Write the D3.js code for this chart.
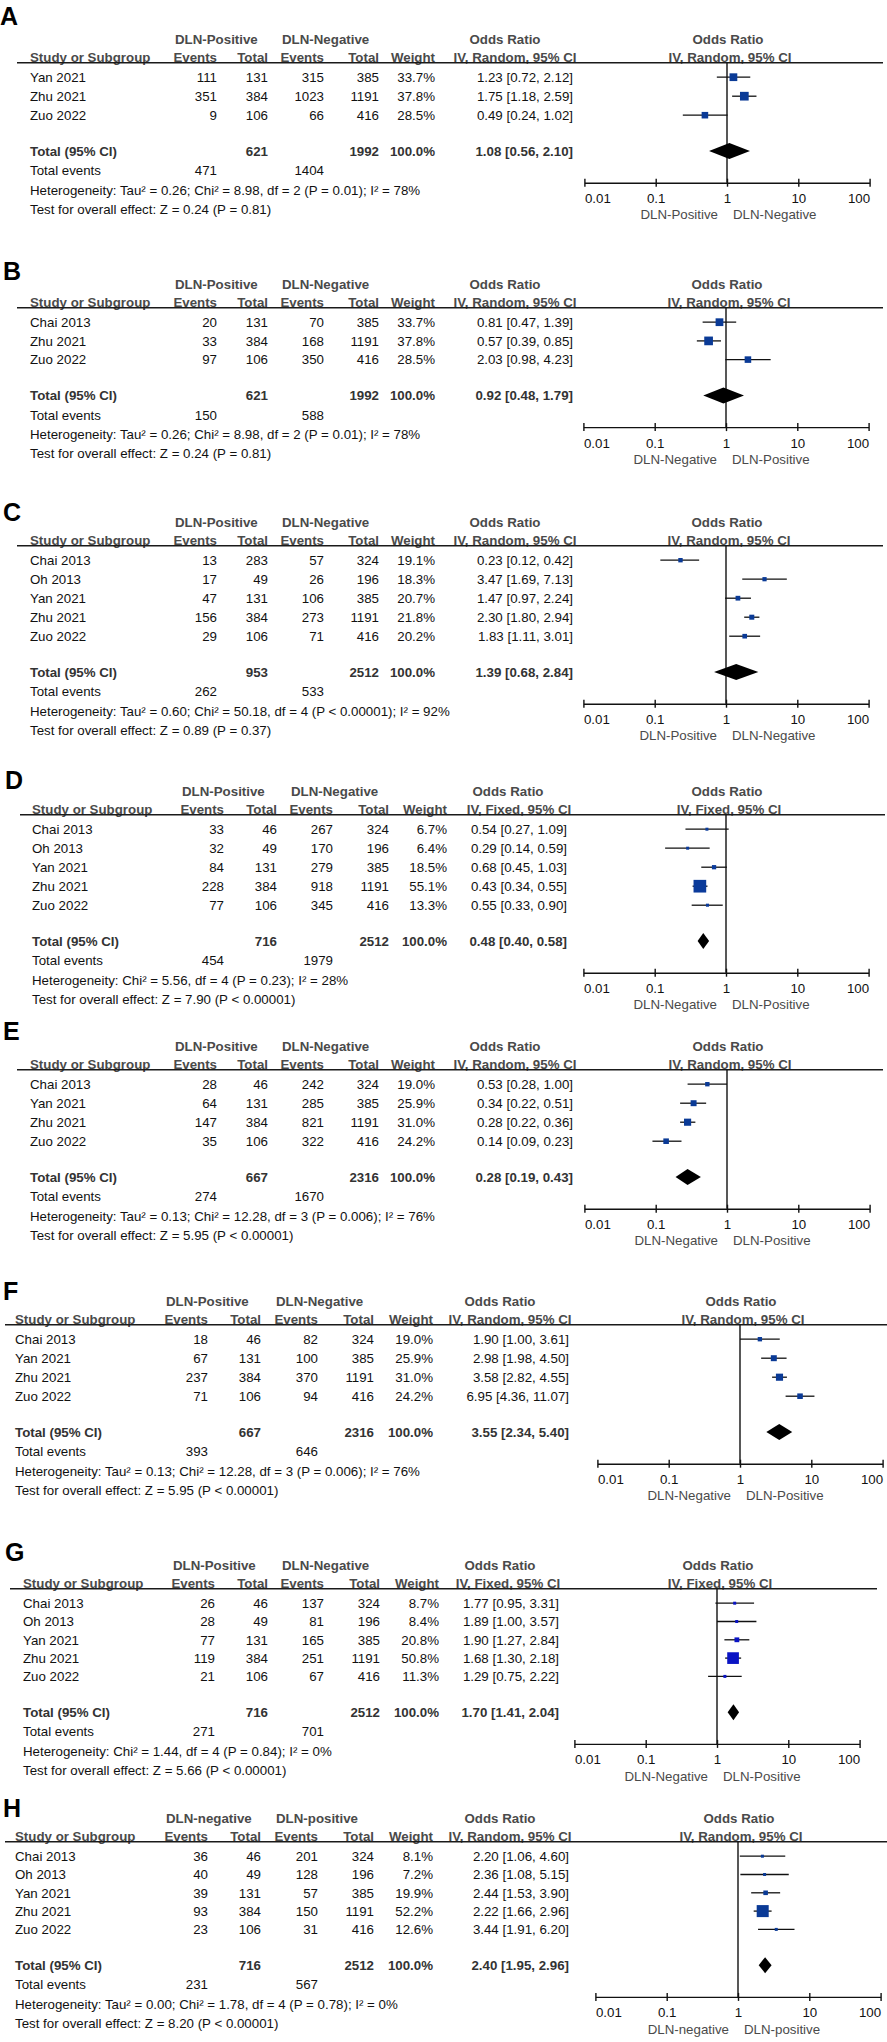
<!DOCTYPE html>
<html>
<head>
<meta charset="utf-8">
<script src="https://cdn.jsdelivr.net/npm/d3@7"></script>
<style>
  body { margin: 0; background: #fff; }
  text { font-family: "Liberation Sans", Arial, sans-serif; }
</style>
</head>
<body>
<div id="chart"></div>
<script>
// ---- data ----
const tickValues = [0.01, 0.1, 1, 10, 100];
const tickLabels = ["0.01", "0.1", "1", "10", "100"];

// each row: posEvents, posTotal, negEvents, negTotal, weight, OR, lower, upper
// totals: posTotal, negTotal, OR, lower, upper, posEvents, negEvents
const studiesA = ["Yan 2021", "Zhu 2021", "Zuo 2022"];
const rowsA = [[111, 131, 315, 385, 33.7, 1.23, 0.72, 2.12], [351, 384, 1023, 1191, 37.8, 1.75, 1.18, 2.59], [9, 106, 66, 416, 28.5, 0.49, 0.24, 1.02]];
const totalA = [621, 1992, 1.08, 0.56, 2.10, 471, 1404];
const groupsA = ["DLN-Positive", "DLN-Negative"];
const favoursA = ["DLN-Positive", "DLN-Negative"];
const notesA = ["Heterogeneity: Tau² = 0.26; Chi² = 8.98, df = 2 (P = 0.01); I² = 78%", "Test for overall effect: Z = 0.24 (P = 0.81)"];

const studiesB = ["Chai 2013", "Zhu 2021", "Zuo 2022"];
const rowsB = [[20, 131, 70, 385, 33.7, 0.81, 0.47, 1.39], [33, 384, 168, 1191, 37.8, 0.57, 0.39, 0.85], [97, 106, 350, 416, 28.5, 2.03, 0.98, 4.23]];
const totalB = [621, 1992, 0.92, 0.48, 1.79, 150, 588];
const groupsB = ["DLN-Positive", "DLN-Negative"];
const favoursB = ["DLN-Negative", "DLN-Positive"];
const notesB = ["Heterogeneity: Tau² = 0.26; Chi² = 8.98, df = 2 (P = 0.01); I² = 78%", "Test for overall effect: Z = 0.24 (P = 0.81)"];

const studiesC = ["Chai 2013", "Oh 2013", "Yan 2021", "Zhu 2021", "Zuo 2022"];
const rowsC = [[13, 283, 57, 324, 19.1, 0.23, 0.12, 0.42], [17, 49, 26, 196, 18.3, 3.47, 1.69, 7.13], [47, 131, 106, 385, 20.7, 1.47, 0.97, 2.24], [156, 384, 273, 1191, 21.8, 2.30, 1.80, 2.94], [29, 106, 71, 416, 20.2, 1.83, 1.11, 3.01]];
const totalC = [953, 2512, 1.39, 0.68, 2.84, 262, 533];
const groupsC = ["DLN-Positive", "DLN-Negative"];
const favoursC = ["DLN-Positive", "DLN-Negative"];
const notesC = ["Heterogeneity: Tau² = 0.60; Chi² = 50.18, df = 4 (P < 0.00001); I² = 92%", "Test for overall effect: Z = 0.89 (P = 0.37)"];

const studiesD = ["Chai 2013", "Oh 2013", "Yan 2021", "Zhu 2021", "Zuo 2022"];
const rowsD = [[33, 46, 267, 324, 6.7, 0.54, 0.27, 1.09], [32, 49, 170, 196, 6.4, 0.29, 0.14, 0.59], [84, 131, 279, 385, 18.5, 0.68, 0.45, 1.03], [228, 384, 918, 1191, 55.1, 0.43, 0.34, 0.55], [77, 106, 345, 416, 13.3, 0.55, 0.33, 0.90]];
const totalD = [716, 2512, 0.48, 0.40, 0.58, 454, 1979];
const groupsD = ["DLN-Positive", "DLN-Negative"];
const favoursD = ["DLN-Negative", "DLN-Positive"];
const notesD = ["Heterogeneity: Chi² = 5.56, df = 4 (P = 0.23); I² = 28%", "Test for overall effect: Z = 7.90 (P < 0.00001)"];

const studiesE = ["Chai 2013", "Yan 2021", "Zhu 2021", "Zuo 2022"];
const rowsE = [[28, 46, 242, 324, 19.0, 0.53, 0.28, 1.00], [64, 131, 285, 385, 25.9, 0.34, 0.22, 0.51], [147, 384, 821, 1191, 31.0, 0.28, 0.22, 0.36], [35, 106, 322, 416, 24.2, 0.14, 0.09, 0.23]];
const totalE = [667, 2316, 0.28, 0.19, 0.43, 274, 1670];
const groupsE = ["DLN-Positive", "DLN-Negative"];
const favoursE = ["DLN-Negative", "DLN-Positive"];
const notesE = ["Heterogeneity: Tau² = 0.13; Chi² = 12.28, df = 3 (P = 0.006); I² = 76%", "Test for overall effect: Z = 5.95 (P < 0.00001)"];

const studiesF = ["Chai 2013", "Yan 2021", "Zhu 2021", "Zuo 2022"];
const rowsF = [[18, 46, 82, 324, 19.0, 1.90, 1.00, 3.61], [67, 131, 100, 385, 25.9, 2.98, 1.98, 4.50], [237, 384, 370, 1191, 31.0, 3.58, 2.82, 4.55], [71, 106, 94, 416, 24.2, 6.95, 4.36, 11.07]];
const totalF = [667, 2316, 3.55, 2.34, 5.40, 393, 646];
const groupsF = ["DLN-Positive", "DLN-Negative"];
const favoursF = ["DLN-Negative", "DLN-Positive"];
const notesF = ["Heterogeneity: Tau² = 0.13; Chi² = 12.28, df = 3 (P = 0.006); I² = 76%", "Test for overall effect: Z = 5.95 (P < 0.00001)"];

const studiesG = ["Chai 2013", "Oh 2013", "Yan 2021", "Zhu 2021", "Zuo 2022"];
const rowsG = [[26, 46, 137, 324, 8.7, 1.77, 0.95, 3.31], [28, 49, 81, 196, 8.4, 1.89, 1.00, 3.57], [77, 131, 165, 385, 20.8, 1.90, 1.27, 2.84], [119, 384, 251, 1191, 50.8, 1.68, 1.30, 2.18], [21, 106, 67, 416, 11.3, 1.29, 0.75, 2.22]];
const totalG = [716, 2512, 1.70, 1.41, 2.04, 271, 701];
const groupsG = ["DLN-Positive", "DLN-Negative"];
const favoursG = ["DLN-Negative", "DLN-Positive"];
const notesG = ["Heterogeneity: Chi² = 1.44, df = 4 (P = 0.84); I² = 0%", "Test for overall effect: Z = 5.66 (P < 0.00001)"];

const studiesH = ["Chai 2013", "Oh 2013", "Yan 2021", "Zhu 2021", "Zuo 2022"];
const rowsH = [[36, 46, 201, 324, 8.1, 2.20, 1.06, 4.60], [40, 49, 128, 196, 7.2, 2.36, 1.08, 5.15], [39, 131, 57, 385, 19.9, 2.44, 1.53, 3.90], [93, 384, 150, 1191, 52.2, 2.22, 1.66, 2.96], [23, 106, 31, 416, 12.6, 3.44, 1.91, 6.20]];
const totalH = [716, 2512, 2.40, 1.95, 2.96, 231, 567];
const groupsH = ["DLN-negative", "DLN-positive"];
const favoursH = ["DLN-negative", "DLN-positive"];
const notesH = ["Heterogeneity: Tau² = 0.00; Chi² = 1.78, df = 4 (P = 0.78); I² = 0%", "Test for overall effect: Z = 8.20 (P < 0.00001)"];

const panels = [
  {key: "A", method: "IV, Random, 95% CI", studies: studiesA, rows: rowsA, total: totalA, groups: groupsA, favours: favoursA, notes: notesA},
  {key: "B", method: "IV, Random, 95% CI", studies: studiesB, rows: rowsB, total: totalB, groups: groupsB, favours: favoursB, notes: notesB},
  {key: "C", method: "IV, Random, 95% CI", studies: studiesC, rows: rowsC, total: totalC, groups: groupsC, favours: favoursC, notes: notesC},
  {key: "D", method: "IV, Fixed, 95% CI", studies: studiesD, rows: rowsD, total: totalD, groups: groupsD, favours: favoursD, notes: notesD},
  {key: "E", method: "IV, Random, 95% CI", studies: studiesE, rows: rowsE, total: totalE, groups: groupsE, favours: favoursE, notes: notesE},
  {key: "F", method: "IV, Random, 95% CI", studies: studiesF, rows: rowsF, total: totalF, groups: groupsF, favours: favoursF, notes: notesF},
  {key: "G", method: "IV, Fixed, 95% CI", studies: studiesG, rows: rowsG, total: totalG, groups: groupsG, favours: favoursG, notes: notesG},
  {key: "H", method: "IV, Random, 95% CI", studies: studiesH, rows: rowsH, total: totalH, groups: groupsH, favours: favoursH, notes: notesH}
];

// ---- layout (per panel positions) ----
const layout = [
  {lx: 0, lab: 16,   h1: 39,   step: 19,   study: 30, cols: [217, 268, 324, 379, 435], x0: 17, vr: 573, vh1: 505, vh2: 515, cx: 727, x1: 883, color: "#0a3a96"},
  {lx: 3, lab: 271,  h1: 284,  step: 18.7, study: 30, cols: [217, 268, 324, 379, 435], x0: 17, vr: 573, vh1: 505, vh2: 515, cx: 726, x1: 883, color: "#0a3a96"},
  {lx: 3, lab: 512,  h1: 522,  step: 19,   study: 30, cols: [217, 268, 324, 379, 435], x0: 17, vr: 573, vh1: 505, vh2: 515, cx: 726, x1: 883, color: "#0a3a96"},
  {lx: 5, lab: 780,  h1: 791,  step: 19,   study: 32, cols: [224, 277, 333, 389, 447], x0: 20, vr: 567, vh1: 508, vh2: 519, cx: 726, x1: 885, color: "#0b3b9b"},
  {lx: 3, lab: 1031, h1: 1046, step: 19,   study: 30, cols: [217, 268, 324, 379, 435], x0: 17, vr: 573, vh1: 505, vh2: 515, cx: 727, x1: 883, color: "#0a3a96"},
  {lx: 3, lab: 1291, h1: 1301, step: 19,   study: 15, cols: [208, 261, 318, 374, 433], x0: 5,  vr: 569, vh1: 500, vh2: 510, cx: 740, x1: 887, color: "#0a3a96"},
  {lx: 5, lab: 1552, h1: 1565, step: 18.3, study: 23, cols: [215, 268, 324, 380, 439], x0: 10, vr: 559, vh1: 500, vh2: 508, cx: 717, x1: 877, color: "#0a14c4"},
  {lx: 3, lab: 1808, h1: 1818, step: 18.3, study: 15, cols: [208, 261, 318, 374, 433], x0: 5,  vr: 569, vh1: 500, vh2: 510, cx: 738, x1: 887, color: "#0a3a96"}
];

const W = 887, H = 2042, FS = 13.3, DEC = 71.3;
const grey = "#4a4a4a", ink = "#111";

const svg = d3.select("#chart").append("svg")
  .attr("width", W).attr("height", H)
  .style("background", "#fff");

const fmt2 = d3.format(".2f");
const ciText = (o, l, u) => `${fmt2(o)} [${fmt2(l)}, ${fmt2(u)}]`;

function txt(g, x, y, s, anchor, bold, color) {
  return g.append("text")
    .attr("x", x).attr("y", y).attr("dy", "0.36em")
    .attr("text-anchor", anchor || "start")
    .style("font-size", FS + "px")
    .style("font-weight", bold ? "bold" : "normal")
    .attr("fill", color || ink)
    .text(s);
}

panels.forEach((p, k) => {
  const L = layout[k];
  const g = svg.append("g");
  const x = d3.scaleLog().domain([0.01, 100]).range([L.cx - 2 * DEC, L.cx + 2 * DEC]);

  const h2 = L.h1 + 18.3, lineY = L.h1 + 23.8, r1 = L.h1 + 38.2;
  const rowY = i => r1 + i * L.step;
  const last = rowY(p.rows.length - 1);
  const totY = last + 35.8, evY = totY + 19.5, hetY = totY + 39, testY = totY + 58;
  const axisY = last + 67.5;

  // panel letter
  g.append("text").attr("x", L.lx).attr("y", L.lab).attr("dy", "0.36em")
    .style("font-size", "25px").style("font-weight", "bold").attr("fill", "#000")
    .text(p.key);

  // header
  txt(g, L.cols[0] - 42, L.h1, p.groups[0], "start", true, grey);
  txt(g, L.cols[2] - 42, L.h1, p.groups[1], "start", true, grey);
  txt(g, L.vh1, L.h1, "Odds Ratio", "middle", true, grey);
  txt(g, L.cx + 1, L.h1, "Odds Ratio", "middle", true, grey);
  txt(g, L.study, h2, "Study or Subgroup", "start", true, grey);
  ["Events", "Total", "Events", "Total", "Weight"].forEach((h, i) => txt(g, L.cols[i], h2, h, "end", true, grey));
  txt(g, L.vh2, h2, p.method, "middle", true, grey);
  txt(g, L.cx + 3, h2, p.method, "middle", true, grey);

  g.append("line").attr("x1", L.x0).attr("x2", L.x1).attr("y1", lineY).attr("y2", lineY)
    .attr("stroke", "#1a1a1a").attr("stroke-width", 1.4);

  // study rows
  p.rows.forEach((r, i) => {
    const y = rowY(i);
    txt(g, L.study, y, p.studies[i]);
    for (let c = 0; c < 4; c++) txt(g, L.cols[c], y, r[c], "end");
    txt(g, L.cols[4], y, r[4].toFixed(1) + "%", "end");
    txt(g, L.vr, y, ciText(r[5], r[6], r[7]), "end");
  });

  // totals
  const t = p.total;
  txt(g, L.study, totY, "Total (95% CI)", "start", true, "#333");
  txt(g, L.cols[1], totY, t[0], "end", true, "#333");
  txt(g, L.cols[3], totY, t[1], "end", true, "#333");
  txt(g, L.cols[4], totY, "100.0%", "end", true, "#333");
  txt(g, L.vr, totY, ciText(t[2], t[3], t[4]), "end", true, "#333");
  txt(g, L.study, evY, "Total events");
  txt(g, L.cols[0], evY, t[5], "end");
  txt(g, L.cols[2], evY, t[6], "end");
  txt(g, L.study, hetY, p.notes[0]);
  txt(g, L.study, testY, p.notes[1]);

  // null line
  g.append("line").attr("x1", x(1)).attr("x2", x(1)).attr("y1", lineY).attr("y2", axisY)
    .attr("stroke", "#111").attr("stroke-width", 1.4);

  // CI lines and squares
  g.selectAll("line.ci").data(p.rows).join("line").attr("class", "ci")
    .attr("x1", d => x(d[6])).attr("x2", d => x(d[7]))
    .attr("y1", (d, i) => rowY(i)).attr("y2", (d, i) => rowY(i))
    .attr("stroke", "#111").attr("stroke-width", 1.3);
  g.selectAll("rect.box").data(p.rows).join("rect").attr("class", "box")
    .attr("x", d => x(d[5]) - Math.max(3, 0.23 * d[4]) / 2)
    .attr("y", (d, i) => rowY(i) - Math.max(3, 0.23 * d[4]) / 2)
    .attr("width", d => Math.max(3, 0.23 * d[4]))
    .attr("height", d => Math.max(3, 0.23 * d[4]))
    .attr("fill", L.color);

  // diamond
  g.append("path")
    .attr("d", `M${x(t[3])},${totY}L${x(t[2])},${totY - 8}L${x(t[4])},${totY}L${x(t[2])},${totY + 8}Z`)
    .attr("fill", "#000");

  // axis
  const ax = g.append("g").attr("transform", `translate(0,${axisY})`)
    .call(d3.axisBottom(x).tickValues(tickValues).tickFormat((d, i) => tickLabels[i]).tickSizeOuter(0).tickSizeInner(4));
  ax.select(".domain").attr("stroke", "#111").attr("stroke-width", 1.4);
  ax.selectAll(".tick line").attr("y1", -4).attr("y2", 4).attr("stroke", "#111").attr("stroke-width", 1.4);
  ax.selectAll(".tick text")
    .attr("y", 11)
    .style("font-size", FS + "px")
    .style("font-family", '"Liberation Sans", Arial, sans-serif')
    .attr("fill", ink)
    .attr("text-anchor", (d, i) => i === 0 ? "start" : (i === tickValues.length - 1 ? "end" : "middle"));

  // favours labels
  txt(g, x(1) - 9, axisY + 32, p.favours[0], "end", false, grey);
  txt(g, x(1) + 6, axisY + 32, p.favours[1], "start", false, grey);
});
</script>
</body>
</html>
